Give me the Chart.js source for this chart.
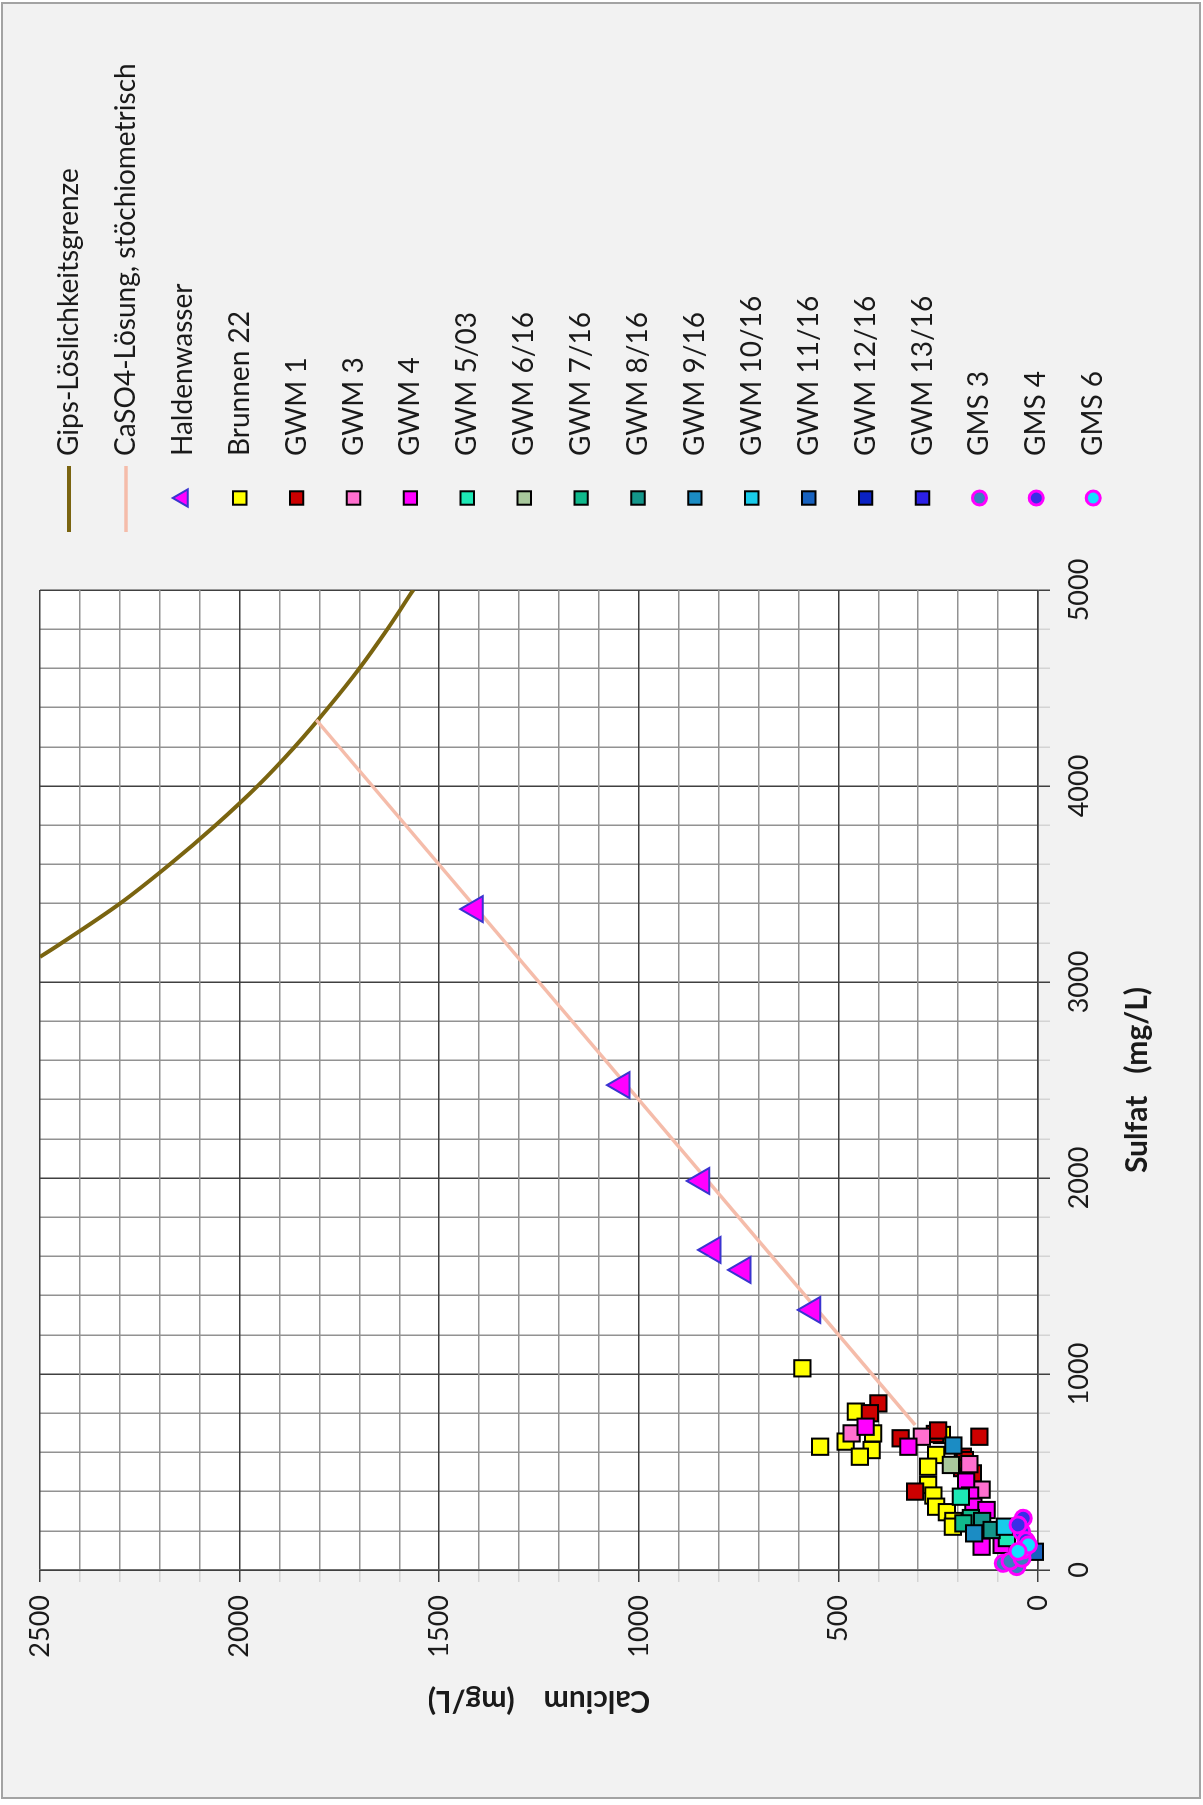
<!DOCTYPE html>
<html>
<head>
<meta charset="utf-8">
<title>Calcium / Sulfat</title>
<script src="https://cdn.jsdelivr.net/npm/chart.js@4/dist/chart.umd.min.js"></script>
<style>
    html, body { margin: 0; padding: 0; background: #fff; overflow: hidden; }
    /* chart is laid out landscape and turned a quarter left */
    #wrap {
        position: absolute; left: 0; top: 0;
        width: 1805px; height: 1203px;
        transform-origin: 0 0;
        transform: translateY(1805px) rotate(-90deg);
    }
    #frame {
        position: absolute; left: 6px; top: 1px; right: 2px; bottom: 2px;
        border: 2px solid #a3a3a3; background: #f2f2f2;
    }
    #chartCaSO4 { position: absolute; left: 0; top: 0; }
</style>
</head>
<body>
<div id="wrap">
    <div id="frame"></div>
    <canvas id="chartCaSO4" width="1805" height="1203"></canvas>
</div>
<script>
// Sulfat (x) / Calcium (y), mg/L
var gipsSulfat   = [3128, 3200, 3400, 3600, 3800, 4000, 4200, 4400, 4600, 4800, 5000];
var gipsCalcium  = [2500, 2445, 2300, 2175, 2060, 1955, 1862, 1778, 1700, 1630, 1565];

var stoechSulfat  = [740, 4337];
var stoechCalcium = [308, 1808];

var haldenSulfat  = [3372, 2474, 1985, 1633, 1531, 1327];
var haldenCalcium = [1410, 1042, 842, 814, 739, 564];

var brunnenSulfat  = [1029, 808, 697, 655, 629, 612, 578, 689, 587, 527, 434, 380, 323, 295, 250, 221];
var brunnenCalcium = [590, 456, 413, 482, 546, 417, 446, 241, 255, 275, 275, 262, 255, 228, 212, 213];

var gwm1Sulfat  = [850, 800, 672, 694, 712, 680, 400, 578, 561, 520, 476, 493];
var gwm1Calcium = [400, 421, 344, 258, 250, 147, 308, 188, 183, 190, 175, 163];

var gwm3Sulfat  = [697, 680, 540, 410];
var gwm3Calcium = [467, 291, 172, 141];

var gwm4Sulfat  = [731, 629, 451, 380, 323, 306, 119, 128];
var gwm4Calcium = [432, 325, 180, 170, 162, 129, 141, 91];

var gwm503Sulfat  = [374, 163];
var gwm503Calcium = [193, 78];
var gwm616Sulfat  = [536];
var gwm616Calcium = [218];
var gwm716Sulfat  = [265, 238];
var gwm716Calcium = [168, 187];
var gwm816Sulfat  = [250, 204];
var gwm816Calcium = [140, 116];
var gwm916Sulfat  = [635, 187];
var gwm916Calcium = [212, 160];
var gwm1016Sulfat  = [221];
var gwm1016Calcium = [83];
var gwm1116Sulfat  = [93];
var gwm1116Calcium = [8];
var gwm1216Sulfat  = [];
var gwm1216Calcium = [];
var gwm1316Sulfat  = [];
var gwm1316Calcium = [];

var gms3Sulfat  = [34, 17, 45, 60];
var gms3Calcium = [87, 53, 70, 40];
var gms4Sulfat  = [264, 196, 150, 230];
var gms4Calcium = [37, 41, 30, 50];
var gms6Sulfat  = [102, 128, 95];
var gms6Calcium = [37, 24, 50];

var sulfatMax = 5000, calciumMax = 2500;

function pts(xs, ys) {
    var out = [];
    for (var i = 0; i < xs.length; i++) out.push({x: xs[i], y: ys[i]});
    return out;
}

function lineSet(label, xs, ys, color, width) {
    return {
        label: label, data: pts(xs, ys), showLine: true, pointRadius: 0,
        borderColor: color, borderWidth: width, fill: false,
        cubicInterpolationMode: 'monotone'
    };
}

function markSet(label, xs, ys, style, fillColor, edgeColor, radius, edge) {
    return {
        label: label, data: pts(xs, ys), showLine: false, clip: false,
        pointStyle: style, pointRadius: radius, pointHoverRadius: radius,
        pointBackgroundColor: fillColor, pointBorderColor: edgeColor,
        pointBorderWidth: edge
    };
}

var sq = 11.5;
var datasets = [
    lineSet('Gips-Löslichkeitsgrenze', gipsSulfat, gipsCalcium, '#7a6410', 4),
    lineSet('CaSO4-Lösung, stöchiometrisch', stoechSulfat, stoechCalcium, '#f5bcaa', 3.5),
    markSet('Haldenwasser', haldenSulfat, haldenCalcium, 'triangle', '#ff00ff', '#3a34d0', 15, 2),
    markSet('Brunnen 22', brunnenSulfat, brunnenCalcium, 'rect', '#ffff00', '#000', sq, 2),
    markSet('GWM 1', gwm1Sulfat, gwm1Calcium, 'rect', '#cc0000', '#000', sq, 2),
    markSet('GWM 3', gwm3Sulfat, gwm3Calcium, 'rect', '#ff6fcf', '#000', sq, 2),
    markSet('GWM 4', gwm4Sulfat, gwm4Calcium, 'rect', '#ff00ff', '#000', sq, 2),
    markSet('GWM 5/03', gwm503Sulfat, gwm503Calcium, 'rect', '#1de8b5', '#000', sq, 2),
    markSet('GWM 6/16', gwm616Sulfat, gwm616Calcium, 'rect', '#a8c89c', '#000', sq, 2),
    markSet('GWM 7/16', gwm716Sulfat, gwm716Calcium, 'rect', '#10b98c', '#000', sq, 2),
    markSet('GWM 8/16', gwm816Sulfat, gwm816Calcium, 'rect', '#14968a', '#000', sq, 2),
    markSet('GWM 9/16', gwm916Sulfat, gwm916Calcium, 'rect', '#1b8cc4', '#000', sq, 2),
    markSet('GWM 10/16', gwm1016Sulfat, gwm1016Calcium, 'rect', '#19cbea', '#000', sq, 2),
    markSet('GWM 11/16', gwm1116Sulfat, gwm1116Calcium, 'rect', '#1862bf', '#000', sq, 2),
    markSet('GWM 12/16', gwm1216Sulfat, gwm1216Calcium, 'rect', '#0a22c4', '#000', sq, 2),
    markSet('GWM 13/16', gwm1316Sulfat, gwm1316Calcium, 'rect', '#2c20e6', '#000', sq, 2),
    markSet('GMS 3', gms3Sulfat, gms3Calcium, 'circle', '#3b7fc0', '#ff00ff', 8, 3),
    markSet('GMS 4', gms4Sulfat, gms4Calcium, 'circle', '#3a2ee6', '#ff00ff', 8, 3),
    markSet('GMS 6', gms6Sulfat, gms6Calcium, 'circle', '#14e0ff', '#ff00ff', 8, 3)
];
// later series sit on top
for (var d = 0; d < datasets.length; d++) datasets[d].order = -d;

var plotBackground = {
    id: 'plotBackground',
    beforeDraw: function (chart) {
        var a = chart.chartArea, ctx = chart.ctx;
        ctx.save();
        ctx.fillStyle = '#ffffff';
        ctx.fillRect(a.left, a.top, a.right - a.left, a.bottom - a.top);
        ctx.restore();
    }
};

function drawMarker(ctx, ds, x, y, r) {
    ctx.fillStyle = ds.pointBackgroundColor;
    ctx.strokeStyle = ds.pointBorderColor;
    ctx.lineWidth = ds.pointBorderWidth;
    ctx.beginPath();
    if (ds.pointStyle === 'rect') {
        var s = r * Math.SQRT1_2;
        ctx.rect(x - s, y - s, 2 * s, 2 * s);
    } else if (ds.pointStyle === 'triangle') {
        ctx.moveTo(x, y - r);
        ctx.lineTo(x + Math.sin(2 * Math.PI / 3) * r, y + r / 2);
        ctx.lineTo(x - Math.sin(2 * Math.PI / 3) * r, y + r / 2);
        ctx.closePath();
    } else {
        ctx.arc(x, y, r, 0, 2 * Math.PI);
    }
    ctx.fill();
    ctx.stroke();
}

// legend column right of the plot
var sideLegend = {
    id: 'sideLegend',
    afterDraw: function (chart) {
        var ctx = chart.ctx;
        var left = chart.chartArea.right + 58, mid = left + 34, textX = left + 76;
        ctx.save();
        chart.data.datasets.forEach(function (ds, i) {
            var y = 69 + i * 56.9;
            if (ds.showLine) {
                ctx.strokeStyle = ds.borderColor;
                ctx.lineWidth = ds.borderWidth;
                ctx.beginPath();
                ctx.moveTo(left, y);
                ctx.lineTo(left + 66, y);
                ctx.stroke();
            } else {
                var r = ds.pointStyle === 'triangle' ? 10 : (ds.pointStyle === 'rect' ? 9.5 : 7);
                drawMarker(ctx, ds, mid, y, r);
            }
            ctx.fillStyle = '#1a1a1a';
            ctx.font = '28px Lato';
            ctx.textBaseline = 'middle';
            ctx.fillText(ds.label, textX, y);
        });
        ctx.restore();
    }
};

function gridColor(step) {
    return function (c) {
        return c.tick && c.tick.value % step === 0 ? '#404040' : '#929292';
    };
}
function tickMarkColor(step) {
    return function (c) {
        return c.tick && c.tick.value % step === 0 ? '#404040' : 'rgba(0,0,0,0.12)';
    };
}

var ctx = document.getElementById('chartCaSO4');
var chartCaSO4 = new Chart(ctx, {
    type: 'scatter',
    data: { datasets: datasets },
    options: {
        responsive: false,
        animation: false,
        layout: { padding: { left: 40, right: 590, top: 40, bottom: 40 } },
        plugins: { legend: { display: false }, tooltip: { enabled: false } },
        scales: {
            x: {
                type: 'linear', min: 0, max: sulfatMax,
                ticks: {
                    stepSize: 200, autoSkip: false, maxRotation: 0, padding: 13,
                    color: '#1a1a1a', font: { family: 'Lato', size: 27 },
                    callback: function (v) { return v % 1000 === 0 ? String(v) : ''; }
                },
                grid: { color: gridColor(1000), tickColor: tickMarkColor(1000), lineWidth: 1.5, tickLength: 12 },
                border: { color: '#404040', width: 1.5 },
                title: {
                    display: true, text: 'Sulfat   (mg/L)', color: '#1a1a1a',
                    font: { family: 'Lato', size: 30, weight: 'bold' },
                    padding: { top: 0, bottom: 8 }
                },
                afterFit: function (s) { s.height = 125; s.paddingLeft = 0; s.paddingRight = 0; }
            },
            y: {
                type: 'linear', min: 0, max: calciumMax,
                ticks: {
                    stepSize: 100, autoSkip: false, padding: 13,
                    color: '#1a1a1a', font: { family: 'Lato', size: 27 },
                    callback: function (v) { return v % 500 === 0 ? String(v) : ''; }
                },
                grid: { color: gridColor(500), tickColor: tickMarkColor(500), lineWidth: 1.5, tickLength: 12 },
                border: { color: '#404040', width: 1.5 },
                title: {
                    display: true, text: 'Calcium    (mg/L)', color: '#1a1a1a',
                    font: { family: 'Lato', size: 30, weight: 'bold' },
                    padding: { top: 46, bottom: 0 }
                },
                afterFit: function (s) { s.width = 195; s.paddingTop = 0; s.paddingBottom = 0; }
            }
        }
    },
    plugins: [plotBackground, sideLegend]
});
</script>
</body>
</html>
